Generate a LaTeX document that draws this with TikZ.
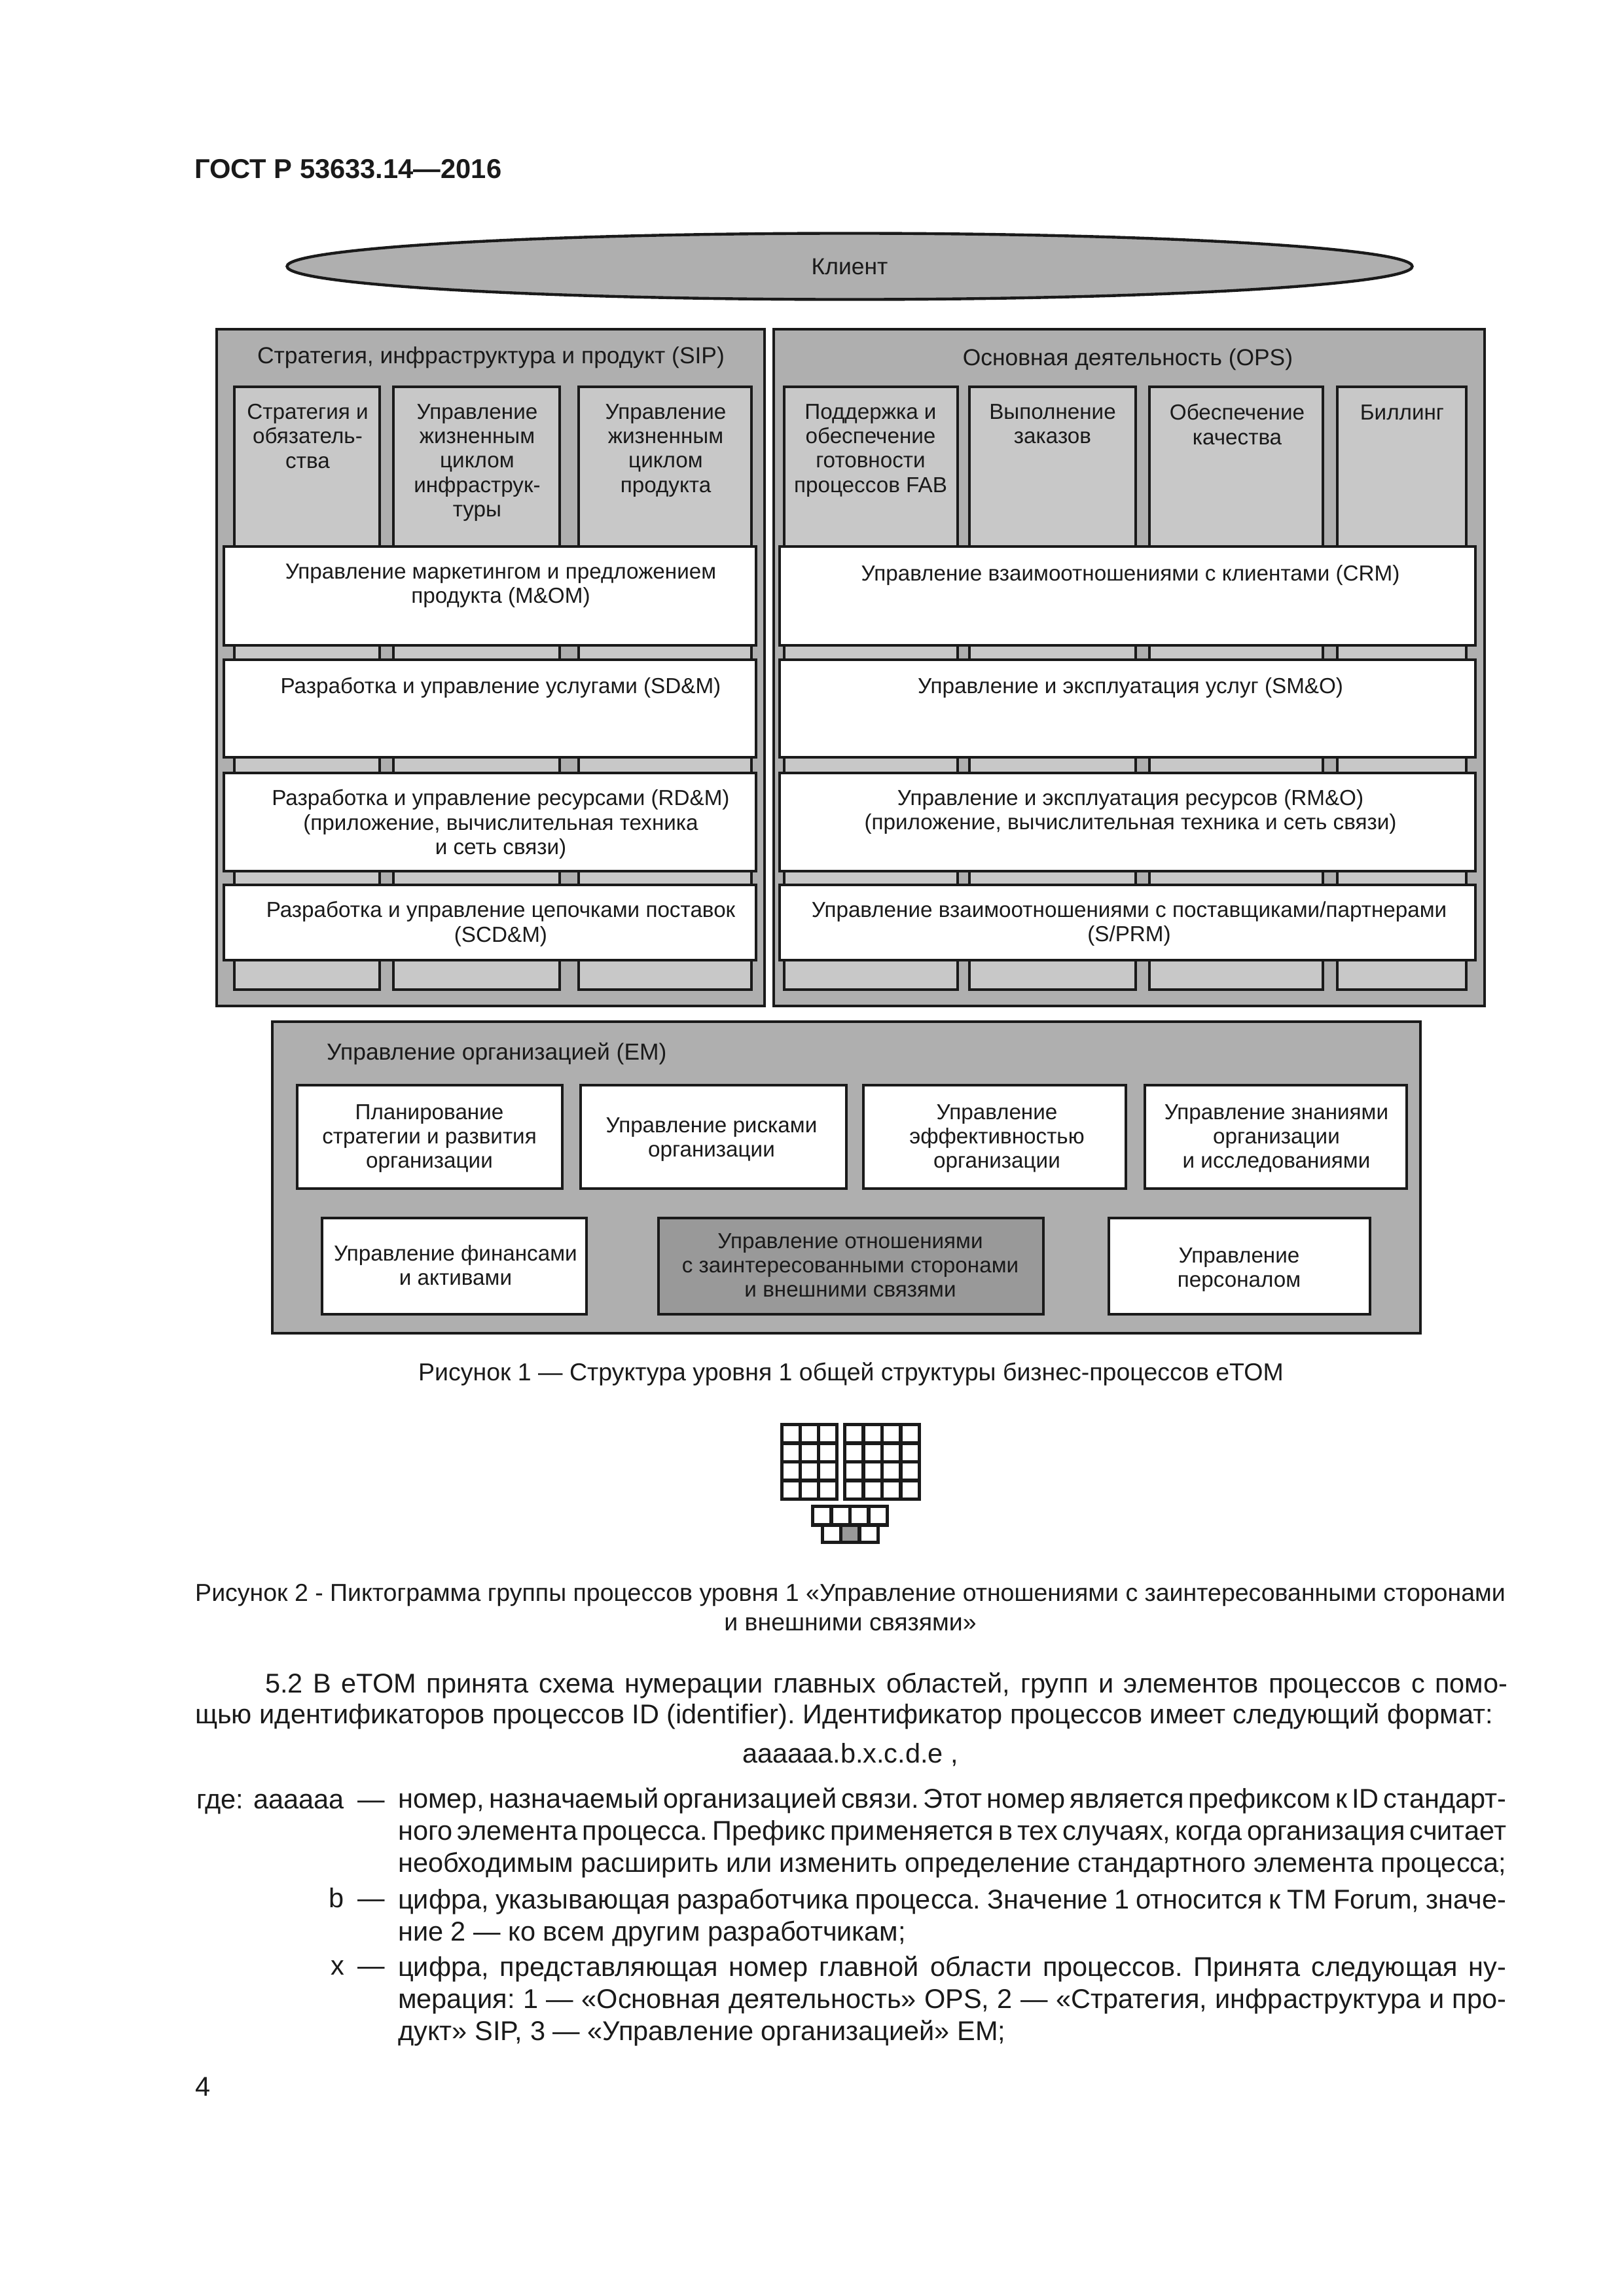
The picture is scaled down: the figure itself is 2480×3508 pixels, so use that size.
\documentclass[tikz,border=0pt]{standalone}
\usepackage{fontspec}
\setmainfont{Liberation Sans}
\usepackage{xcolor}
\usetikzlibrary{shapes.geometric}
\definecolor{inkline}{HTML}{1A1A1A}
\definecolor{areagray}{HTML}{AFAFAF}
\definecolor{colgray}{HTML}{C8C8C8}
\definecolor{stakegray}{HTML}{999999}

\begin{document}
\begin{tikzpicture}[
    x=0.01cm,y=-0.01cm,
    line width=1.25pt,
    every node/.style={font=\fontsize{9.45}{10.64}\selectfont,inner sep=0pt,text=inkline},
    areabox/.style={draw=inkline,fill=areagray},
    colbox/.style={draw=inkline,fill=colgray},
    bandbox/.style={draw=inkline,fill=white},
    stakebox/.style={draw=inkline,fill=stakegray},
    pictcell/.style={draw=inkline,fill=white,line width=1.5pt},
    lbl/.style={align=center,anchor=north,execute at begin node={\rule{0pt}{0.8em}}},
    bigfont/.style={font=\fontsize{10.07}{11.5}\selectfont},
    linefont/.style={font=\fontsize{11.8}{13.95}\selectfont},
    pagetext/.style={linefont,anchor=north west,align=justify,
      execute at begin node={\frenchspacing\spaceskip=.278em plus .3em minus .2em\relax\rule{0pt}{0.8em}}},
    captext/.style={font=\fontsize{10.66}{12.8}\selectfont,align=center,anchor=base},
  ]
    \useasboundingbox (0,0) rectangle (2480,3508);

    \node[font=\bfseries\fontsize{11.85}{13}\selectfont,anchor=base west] (gost) at (295,272) {ГОСТ Р 53633.14—2016};

    \node[ellipse,draw=inkline,fill=areagray,minimum width=17.18cm,minimum height=1.01cm,line width=1.25pt,bigfont] (client) at (1298,407) {Клиент};

    % SIP and OPS
    \draw[areabox] (331,503) rectangle (1168,1537);
    \draw[areabox] (1182,503) rectangle (2268,1537);
    \foreach \xa/\xb in {358/580,601/855,884/1148,1198/1463,1481/1735,1756/2021,2043/2240}
      \draw[colbox] (\xa,591) rectangle (\xb,1512);
    \foreach \ya/\yb in {835/986,1008/1157,1181/1331,1352/1467} {
      \draw[bandbox] (342,\ya) rectangle (1155,\yb);
      \draw[bandbox] (1191,\ya) rectangle (2254,\yb);
    }

    \node[lbl,bigfont] (sip) at (750,525) {Стратегия, инфраструктура и продукт (SIP)};
    \node[lbl,bigfont] (ops) at (1723,528) {Основная деятельность (OPS)};

    \node[lbl] (strat) at (470,615) {Стратегия и\\обязатель-\\ства};
    \node[lbl] (infra) at (729,615) {Управление\\жизненным\\циклом\\инфраструк-\\туры};
    \node[lbl] (prod) at (1017,615) {Управление\\жизненным\\циклом\\продукта};
    \node[lbl] (fab) at (1330,615) {Поддержка и\\обеспечение\\готовности\\процессов FAB};
    \node[lbl] (fulf) at (1608,615) {Выполнение\\заказов};
    \node[lbl] (assur) at (1890,615) {Обеспечение\\качества};
    \node[lbl] (bill) at (2142,613) {Биллинг};

    \node[lbl] (mom) at (765,859) {Управление маркетингом и предложением\\продукта (M\&OM)};
    \node[lbl] (sdm) at (765,1031) {Разработка и управление услугами (SD\&M)};
    \node[lbl] (rdm) at (765,1204) {Разработка и управление ресурсами (RD\&M)\\(приложение, вычислительная техника\\и сеть связи)};
    \node[lbl] (scdm) at (765,1375) {Разработка и управление цепочками поставок\\(SCD\&M)};
    \node[lbl] (crm) at (1727,859) {Управление взаимоотношениями с клиентами (CRM)};
    \node[lbl] (smo) at (1727,1031) {Управление и эксплуатация услуг (SM\&O)};
    \node[lbl] (rmo) at (1727,1204) {Управление и эксплуатация ресурсов (RM\&O)\\(приложение, вычислительная техника и сеть связи)};
    \node[lbl] (sprm) at (1725,1375) {Управление взаимоотношениями с поставщиками/партнерами\\(S/PRM)};

    % EM
    \draw[areabox] (416,1561) rectangle (2170,2037);
    \foreach \xa/\xb in {454/859,887/1293,1319/1720,1749/2149}
      \draw[bandbox] (\xa,1658) rectangle (\xb,1816);
    \draw[bandbox] (492,1861) rectangle (896,2008);
    \draw[stakebox] (1006,1861) rectangle (1594,2008);
    \draw[bandbox] (1694,1861) rectangle (2093,2008);

    \node[lbl,bigfont,anchor=north west] (em) at (497,1589) {Управление организацией (EM)};
    \node[lbl] (plan) at (656,1685) {Планирование\\стратегии и развития\\организации};
    \node[lbl] (risk) at (1087,1705) {Управление рисками\\организации};
    \node[lbl] (perf) at (1523,1685) {Управление\\эффективностью\\организации};
    \node[lbl] (know) at (1950,1685) {Управление знаниями\\организации\\и исследованиями};
    \node[lbl] (fin) at (696,1900) {Управление финансами\\и активами};
    \node[lbl] (stake) at (1299,1882) {Управление отношениями\\с заинтересованными сторонами\\и внешними связями};
    \node[lbl] (staff) at (1893,1904) {Управление\\персоналом};

    \node[captext] (capa) at (1300,2109) {Рисунок 1 — Структура уровня 1 общей структуры бизнес-процессов eTOM};

    % pictogram
    \foreach \i in {0,1,2} \foreach \j in {0,1,2,3}
      \draw[pictcell] ({1194.5+\i*28},{2176.5+\j*28.5}) rectangle +(28,28.5);
    \foreach \i in {0,1,2,3} {
      \foreach \j in {0,1,2,3}
        \draw[pictcell] ({1290.5+\i*28.5},{2176.5+\j*28.5}) rectangle +(28.5,28.5);
      \draw[pictcell] ({1241.5+\i*28.5},2301.5) rectangle +(28.5,28.5);
    }
    \foreach \i/\c in {0/white,1/stakegray,2/white}
      \draw[pictcell,fill=\c] ({1256.5+\i*28.3},2330) rectangle +(28.3,26.5);

    \node[captext] (capb) at (1299,2491) {Рисунок 2 - Пиктограмма группы процессов уровня 1 «Управление отношениями с заинтересованными сторонами\\и внешними связями»};

    \node[pagetext,text width=20.04cm,font=\fontsize{11.8}{13.37}\selectfont] (par) at (296,2551) {\hspace*{30.4pt}5.2 В eTOM принята схема нумерации главных областей, групп и элементов процессов с помо-\linebreak щью идентификаторов процессов ID (identifier). Идентификатор процессов имеет следующий формат:};
    \node[linefont,anchor=base] (fmt) at (1299,2693) {аааааа.b.x.c.d.e ,};

    \node[linefont,anchor=base east] (aaa) at (590,2763) {где: аааааа\hspace{2.5pt} —};
    \node[linefont,anchor=base east] (bb) at (590,2914) {b\hspace{2.5pt} —};
    \node[linefont,anchor=base east] (xx) at (590,3017) {x\hspace{2.5pt} —};

    \node[pagetext,text width=16.92cm] (aaatxt) at (606,2727) {номер, назначаемый организацией связи. Этот номер является префиксом к ID стандарт-\linebreak ного элемента процесса. Префикс применяется в тех случаях, когда организация считает\linebreak необходимым расширить или изменить определение стандартного элемента процесса;};
    \node[pagetext,text width=16.92cm] (bbtxt) at (606,2881) {цифра, указывающая разработчика процесса. Значение 1 относится к TM Forum, значе-\linebreak ние 2 — ко всем другим разработчикам;};
    \node[pagetext,text width=16.92cm] (xxtxt) at (606,2984) {цифра, представляющая номер главной области процессов. Принята следующая ну-\linebreak мерация: 1 — «Основная деятельность» OPS, 2 — «Стратегия, инфраструктура и про-\linebreak дукт» SIP, 3 — «Управление организацией» EM;};

    \node[linefont,anchor=base west] (pageno) at (296,3202) {4};
  \end{tikzpicture}
\end{document}
